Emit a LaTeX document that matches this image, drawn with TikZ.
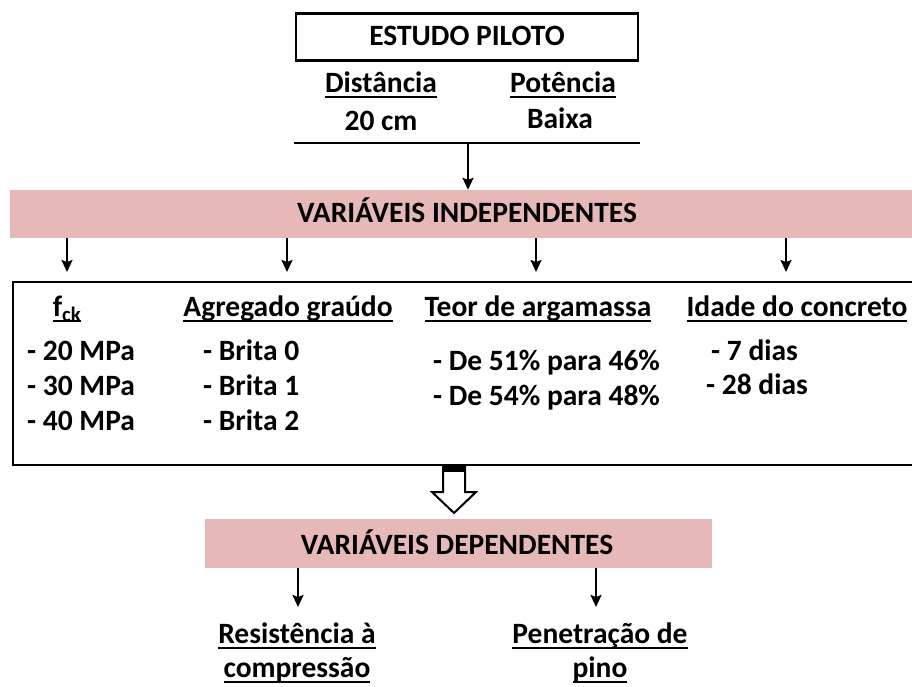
\documentclass[tikz,border=0pt]{standalone}
\usepackage{fontspec}
\setmainfont{Carlito}
\usetikzlibrary{arrows.meta}
\definecolor{bandpink}{RGB}{230,185,184}
\newcommand\myul[1]{\leavevmode\setbox0\hbox{#1}\rlap{\rule[-5.5pt]{\wd0}{2pt}}\box0}
\begin{document}
\begin{tikzpicture}[x=1pt,y=-1pt,
  txt/.style={inner sep=0, font=\fontsize{29.5}{35}\selectfont\bfseries},
  band/.style={fill=bandpink, draw=none, inner sep=0},
  arr/.style={-{Stealth[length=12pt,width=11pt,inset=2pt]}, line width=2pt},
  hollow/.style={draw=black, line width=2pt, fill=white, line join=miter}]
\useasboundingbox (0,0) rectangle (912,686);
% top box
\node[draw, line width=2.5pt, minimum width=342, minimum height=47, inner sep=0] (pilot) at (467,37) {};
\node[txt, anchor=base] (pilott) at (467,45) {ESTUDO PILOTO};
\node[txt, anchor=base] (dist) at (381,92) {\myul{Distância}};
\node[txt, anchor=base] (pot) at (563,92) {\myul{Potência}};
\node[txt, anchor=base] (d20) at (381,130) {20 cm};
\node[txt, anchor=base] (baixa) at (560,128) {Baixa};
\coordinate (la) at (294,143);
\coordinate (lb) at (640,143);
\coordinate (ls) at (468,143);
\draw[line width=1.5pt] (la) -- (lb);
% independent band
\node[band, minimum width=902, minimum height=48] (indep) at (461,214) {};
\node[txt, anchor=base] (indept) at (467,222) {VARIÁVEIS INDEPENDENTES};
\draw[arr] (ls) -- (indep.north -| ls);
% big box
\node[draw, line width=1.5pt, minimum width=906, minimum height=183, inner sep=0] (box) at (466,373.5) {};
\foreach \n/\x in {a1/67, a2/287, a3/536, a4/786}{
  \coordinate (\n) at (\x,272);
  \draw[arr] (indep.south -| \n) -- (\n);
}
% column headers
\node[txt, anchor=base] (h1) at (67,316) {\myul{f\textsubscript{ck}}};
\node[txt, anchor=base] (h2) at (288,316) {\myul{Agregado graúdo}};
\node[txt, anchor=base] (h3) at (538,316) {\myul{Teor de argamassa}};
\node[txt, anchor=base] (h4) at (797,316) {\myul{Idade do concreto}};
% column entries
\node[txt, anchor=base west] (f1) at (27,360) {- 20 MPa};
\node[txt, anchor=base west] (f2) at (27,395) {- 30 MPa};
\node[txt, anchor=base west] (f3) at (27,430) {- 40 MPa};
\node[txt, anchor=base west] (b1) at (203,360) {- Brita 0};
\node[txt, anchor=base west] (b2) at (203,395) {- Brita 1};
\node[txt, anchor=base west] (b3) at (203,430) {- Brita 2};
\node[txt, anchor=base west] (t1) at (433,370) {- De 51\% para 46\%};
\node[txt, anchor=base west] (t2) at (433,405) {- De 54\% para 48\%};
\node[txt, anchor=base west] (i1) at (711,360) {- 7 dias};
\node[txt, anchor=base west] (i2) at (706,394) {- 28 dias};
% dependent band
\node[band, minimum width=507, minimum height=49] (dep) at (458.5,543.5) {};
\node[txt, anchor=base] (dept) at (457,554) {VARIÁVEIS DEPENDENTES};
% hollow arrow from box to dependent band
\draw[hollow] (443,465) -- (465,465) -- (465,492) -- (476,492) -- (454,513) -- (432,492) -- (443,492) -- cycle;
\fill[black] (443,465) rectangle (465,472);
% outputs
\coordinate (r) at (298,607);
\coordinate (p) at (596,607);
\draw[arr] (dep.south -| r) -- (r);
\draw[arr] (dep.south -| p) -- (p);
\node[txt, anchor=base] (res1) at (297,643) {\myul{Resistência à}};
\node[txt, anchor=base] (res2) at (297,677) {\myul{compressão}};
\node[txt, anchor=base] (pen1) at (600,643) {\myul{Penetração de}};
\node[txt, anchor=base] (pen2) at (600,677) {\myul{pino}};
\end{tikzpicture}
\end{document}
